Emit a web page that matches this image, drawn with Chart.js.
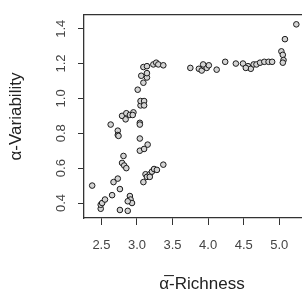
<!DOCTYPE html>
<html>
    <head>
        <script src="https://cdn.jsdelivr.net/npm/chart.js"></script>
        <style>
            body { margin: 0; overflow: hidden; background: white; }
        </style>
    </head>
    <body>
        <div style="width:404px;height:301px">
            <canvas id="myChart" width="404" height="301"></canvas>
        </div>
        <script>
            // values
            const richness = [2.37, 2.49, 2.49, 2.51, 2.55, 2.65, 2.67, 2.73, 2.76, 2.76,
                2.87, 2.90, 2.91, 2.93, 2.87, 2.81, 2.79, 2.82, 2.85, 2.63,
                2.73, 2.73, 2.74, 2.79, 2.85, 2.84, 2.90, 2.95, 2.94, 3.04,
                3.04, 3.04, 3.04, 3.10, 3.15, 3.09, 3.12, 3.14, 3.18, 3.21,
                3.24, 3.28, 3.37, 3.18, 3.01, 3.05, 3.05, 3.10, 3.10, 3.09,
                3.06, 3.14, 3.14, 3.09, 3.14, 3.23, 3.27, 3.30, 3.37, 3.75,
                3.87, 3.91, 3.94, 3.98, 4.01, 3.93, 4.12, 4.24, 4.39, 4.49,
                4.56, 4.60, 4.64, 4.68, 4.53, 4.73, 4.79, 4.85, 4.90, 5.03,
                5.05, 5.06, 5.05, 5.08, 5.24]
            const variability = [0.50, 0.367, 0.39, 0.40, 0.42, 0.445, 0.52, 0.54, 0.48, 0.36,
                0.355, 0.44, 0.42, 0.40, 0.41, 0.67, 0.63, 0.615, 0.60, 0.85,
                0.815, 0.79, 0.785, 0.90, 0.915, 0.88, 0.905, 0.92, 0.905, 0.86,
                0.85, 0.77, 0.70, 0.71, 0.735, 0.52, 0.565, 0.55, 0.565, 0.58,
                0.595, 0.59, 0.62, 0.55, 1.05, 0.96, 0.985, 0.985, 0.96, 1.09,
                1.13, 1.12, 1.145, 1.18, 1.185, 1.195, 1.205, 1.195, 1.19, 1.175,
                1.17, 1.16, 1.185, 1.175, 1.19, 1.195, 1.165, 1.21, 1.2, 1.2,
                1.185, 1.17, 1.195, 1.195, 1.175, 1.205, 1.21, 1.21, 1.21, 1.27,
                1.25, 1.22, 1.205, 1.34, 1.425]
            const xTicks = [2.5, 3.0, 3.5, 4.0, 4.5, 5.0]
            const yTicks = [0.4, 0.6, 0.8, 1.0, 1.2, 1.4]

            const points = richness.map((x, i) => ({x: x, y: variability[i]}))
            const frame = '#333'
            const font = '"Liberation Sans", Arial, sans-serif'

            const ctx = document.getElementById('myChart');
            new Chart(ctx, {
                type: 'scatter',
                data: {
                    datasets: [{
                        data: points,
                        pointRadius: 2.8,
                        borderWidth: 1,
                        borderColor: '#1a1a1a',
                        backgroundColor: '#d4d4d4',
                    }]
                },
                options: {
                    responsive: false,
                    animation: false,
                    devicePixelRatio: 1,
                    layout: { padding: 0 },
                    plugins: {
                        legend: { display: false },
                        tooltip: { enabled: false },
                        title: {
                            display: true,
                            position: 'bottom',
                            text: 'α\u0305-Richness',
                            color: '#222',
                            font: { size: 17, family: font, weight: 'normal' },
                            padding: { top: 4, bottom: 6 }
                        }
                    },
                    scales: {
                        x: {
                            type: 'linear',
                            position: 'bottom',
                            min: 2.255,
                            max: 5.355,
                            afterBuildTicks: (s) => { s.ticks = xTicks.map(v => ({value: v})) },
                            afterFit: (s) => { s.height = 52.6 },
                            grid: { drawOnChartArea: false, tickLength: 7, tickColor: frame },
                            border: { color: frame, width: 1.3 },
                            ticks: {
                                color: '#444',
                                padding: 13,
                                maxRotation: 0,
                                font: { size: 13, family: font },
                                callback: (v) => v.toFixed(1)
                            }
                        },
                        y: {
                            type: 'linear',
                            position: 'left',
                            min: 0.314,
                            max: 1.478,
                            afterBuildTicks: (s) => { s.ticks = yTicks.map(v => ({value: v})) },
                            afterFit: (s) => { s.width = 84 },
                            grid: { drawOnChartArea: false, tickLength: 6, tickColor: frame },
                            border: { color: frame, width: 1.3 },
                            ticks: {
                                color: '#444',
                                padding: 7.3,
                                minRotation: 90,
                                maxRotation: 90,
                                crossAlign: 'center',
                                font: { size: 13, family: font },
                                callback: (v) => v.toFixed(1)
                            },
                            title: {
                                display: true,
                                text: 'α-Variability',
                                color: '#222',
                                font: { size: 17, family: font },
                                padding: { top: 5.8, bottom: 0 }
                            }
                        },
                        // top and right edges of the box
                        x2: {
                            position: 'top',
                            afterFit: (s) => { s.height = 4.7 },
                            grid: { drawOnChartArea: false, drawTicks: false },
                            border: { color: frame, width: 1.3 },
                            ticks: { display: false }
                        },
                        y2: {
                            position: 'right',
                            afterFit: (s) => { s.width = 99.5 },
                            grid: { drawOnChartArea: false, drawTicks: false },
                            border: { color: frame, width: 1.3 },
                            ticks: { display: false }
                        }
                    }
                }
            });
        </script>
    </body>
</html>
